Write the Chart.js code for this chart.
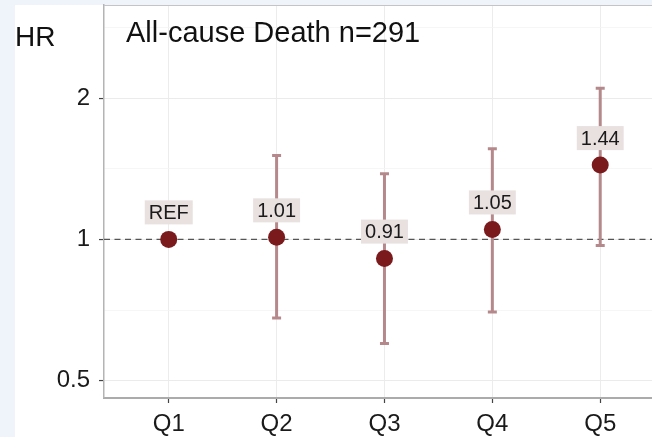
<!DOCTYPE html>
<html>
<head>
<meta charset="utf-8">
<script src="https://cdn.jsdelivr.net/npm/chart.js@4.4.1/dist/chart.umd.min.js"></script>
<style>
  html, body { margin: 0; padding: 0; background: #eef4f9; overflow: hidden; }
  #c { position: absolute; left: 0; top: 0; }
</style>
</head>
<body>
<canvas id="c" width="652" height="437"></canvas>
<script>
// Hazard ratios by quintile with 95% confidence intervals
const categories   = ['Q1', 'Q2', 'Q3', 'Q4', 'Q5'];
const hazardRatio  = [1.00, 1.01, 0.91, 1.05, 1.44];
const ciLower      = [null, 0.68, 0.60, 0.70, 0.97];
const ciUpper      = [null, 1.51, 1.38, 1.56, 2.10];
const pointLabels  = ['REF', '1.01', '0.91', '1.05', '1.44'];
const yTicks       = [0.5, 1, 2];
const yMinorGrid   = [0.707, 1.414, 2.83];
const titleText    = 'All-cause Death n=291';
const yAxisTitle   = 'HR';

const FONT = "'Liberation Sans', Arial, sans-serif";

// keep the panel edges fixed: no automatic label padding
function noPadding(scale) {
  scale.paddingLeft = 0;
  scale.paddingRight = 0;
  scale.paddingTop = 0;
  scale.paddingBottom = 0;
}

const decorations = {
  id: 'decorations',
  beforeDraw(chart) {
    const { ctx } = chart;
    ctx.save();
    ctx.fillStyle = '#eef4f9';
    ctx.fillRect(0, 0, chart.width, chart.height);
    ctx.fillStyle = '#ffffff';
    ctx.fillRect(15, 5, chart.width - 15, chart.height - 5);
    ctx.restore();
  },
  beforeDatasetsDraw(chart) {
    const { ctx, chartArea: a, scales: { x, y } } = chart;
    ctx.save();
    // panel top edge
    ctx.strokeStyle = '#c4c4c4';
    ctx.lineWidth = 1.2;
    ctx.beginPath();
    ctx.moveTo(a.left, a.top + 0.5);
    ctx.lineTo(a.right, a.top + 0.5);
    ctx.stroke();

    // reference line at HR = 1
    const y1 = y.getPixelForValue(1);
    ctx.strokeStyle = '#555555';
    ctx.lineWidth = 1.3;
    ctx.setLineDash([6, 4.5]);
    ctx.beginPath();
    ctx.moveTo(a.left, y1);
    ctx.lineTo(a.right, y1);
    ctx.stroke();
    ctx.setLineDash([]);

    // confidence interval bars
    ctx.strokeStyle = '#b5898b';
    ctx.lineWidth = 3;
    ctx.lineCap = 'butt';
    categories.forEach((c, i) => {
      if (ciLower[i] == null) return;
      const px = x.getPixelForValue(i + 1);
      const lo = y.getPixelForValue(ciLower[i]);
      const hi = y.getPixelForValue(ciUpper[i]);
      ctx.beginPath();
      ctx.moveTo(px, lo);
      ctx.lineTo(px, hi);
      ctx.moveTo(px - 4.5, lo);
      ctx.lineTo(px + 4.5, lo);
      ctx.moveTo(px - 4.5, hi);
      ctx.lineTo(px + 4.5, hi);
      ctx.stroke();
    });
    ctx.restore();
  },
  afterDatasetsDraw(chart) {
    const { ctx, scales: { x, y } } = chart;
    ctx.save();
    ctx.font = '20px ' + FONT;
    ctx.textAlign = 'center';
    ctx.textBaseline = 'middle';
    pointLabels.forEach((t, i) => {
      const px = x.getPixelForValue(i + 1);
      const py = y.getPixelForValue(hazardRatio[i]) - 27;
      const w = ctx.measureText(t).width + 8;
      const h = 24;
      ctx.fillStyle = '#e9e0e0';
      ctx.fillRect(px - w / 2, py - h / 2, w, h);
      ctx.fillStyle = '#1a1a1a';
      ctx.fillText(t, px, py + 1);
    });
    ctx.restore();
  },
  afterDraw(chart) {
    const { ctx } = chart;
    ctx.save();
    ctx.fillStyle = '#111111';
    ctx.textBaseline = 'alphabetic';
    ctx.textAlign = 'left';
    ctx.font = '29px ' + FONT;
    ctx.fillText(titleText, 126, 42);
    ctx.font = '28px ' + FONT;
    ctx.fillText(yAxisTitle, 15, 46);
    ctx.restore();
  }
};

new Chart(document.getElementById('c'), {
  type: 'scatter',
  data: {
    datasets: [{
      data: hazardRatio.map((v, i) => ({ x: i + 1, y: v })),
      pointRadius: 8.5,
      pointHoverRadius: 8.5,
      pointBackgroundColor: '#7b1a1c',
      pointBorderWidth: 0,
      clip: false
    }]
  },
  options: {
    responsive: false,
    animation: false,
    devicePixelRatio: 1,
    layout: { autoPadding: false, padding: { left: 0, top: 5, right: 0, bottom: 0 } },
    plugins: { legend: { display: false }, tooltip: { enabled: false } },
    scales: {
      x: {
        type: 'linear',
        min: 0.4,
        max: 5.48,
        afterBuildTicks(scale) {
          scale.ticks = categories.map((c, i) => ({ value: i + 1 }));
        },
        afterFit(scale) { scale.height = 39; noPadding(scale); },
        ticks: {
          font: { family: FONT, size: 24 },
          color: '#1a1a1a',
          padding: 7,
          autoSkip: false,
          maxRotation: 0,
          callback: (v) => categories[v - 1]
        },
        grid: { color: '#ececec', lineWidth: 1, tickLength: 5, tickColor: '#444444', tickWidth: 1.2 },
        border: { display: true, color: '#ababab', width: 2 }
      },
      y: {
        type: 'logarithmic',
        min: 0.459,
        max: 3.16,
        afterBuildTicks(scale) {
          const all = yTicks.map(v => ({ value: v, major: true }))
            .concat(yMinorGrid.map(v => ({ value: v, major: false })));
          all.sort((a, b) => a.value - b.value);
          scale.ticks = all;
        },
        afterFit(scale) { scale.width = 104; noPadding(scale); },
        ticks: {
          font: { family: FONT, size: 24 },
          color: '#1a1a1a',
          padding: 9,
          autoSkip: false,
          callback: (v) => yTicks.includes(v) ? String(v) : ''
        },
        grid: {
          color: (ctx) => (ctx.tick && ctx.tick.major) ? '#ebebeb' : '#f4f4f4',
          lineWidth: (ctx) => (ctx.tick && ctx.tick.major) ? 1.1 : 0.8,
          tickLength: 5,
          tickColor: (ctx) => (ctx.tick && ctx.tick.major) ? '#444444' : 'rgba(0,0,0,0)',
          tickWidth: 1.2
        },
        border: { display: true, color: '#b4b4b4', width: 1.5 }
      }
    }
  },
  plugins: [decorations]
});
</script>
</body>
</html>
